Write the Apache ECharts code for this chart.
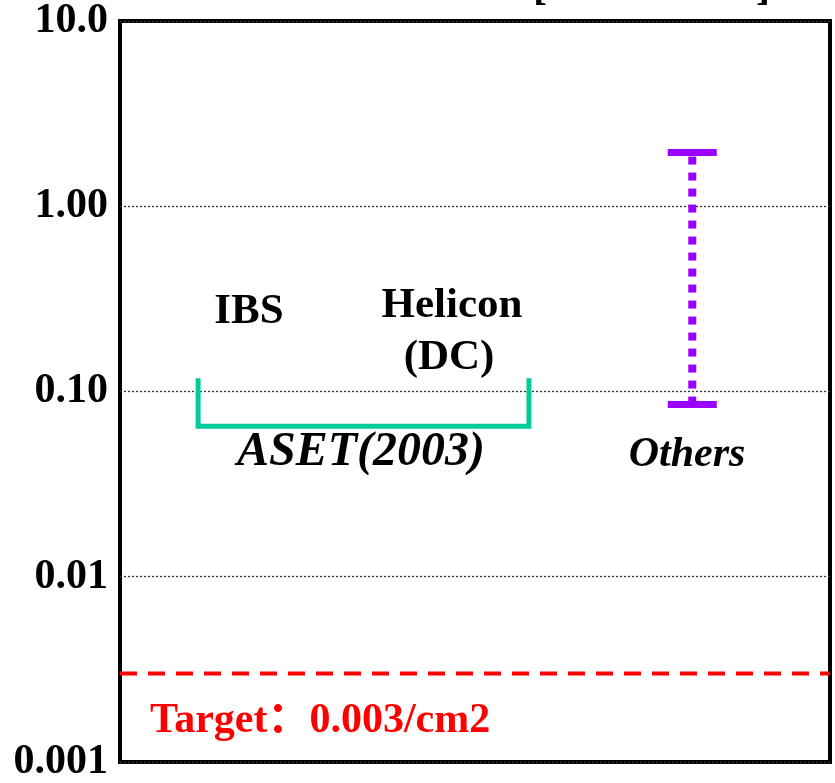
<!DOCTYPE html>
<html>
<head>
<meta charset="utf-8">
<script src="https://cdn.jsdelivr.net/npm/echarts@6/dist/echarts.min.js"></script>
<style>
  html, body { margin: 0; padding: 0; background: #fff; }
  #chart { width: 835px; height: 783px; }
</style>
</head>
<body>
<div id="chart"></div>
<script>
// Y axis (log scale) tick values and their printed labels
const tickValues = [0.001, 0.01, 0.1, 1, 10];
const tickLabels = ['0.001', '0.01', '0.10', '1.00', '10.0'];

// ASET(2003) bracket: spans IBS .. Helicon (DC)
const asetX = [11, 57.6];          // left / right ends on the horizontal scale (0..100)
const asetRange = [0.065, 0.118];  // bracket bottom / tips of the end ticks

// "Others" range bar
const othersX = 80.6;
const othersRange = [0.085, 1.95]; // low / high
const othersCapHalf = 3.45;

// Target level
const targetValue = 0.003;

const serif = "'Liberation Serif', 'Times New Roman', 'Noto Sans CJK SC', serif";

const chart = echarts.init(document.getElementById('chart'), null, { renderer: 'canvas' });

const option = {
  animation: false,
  backgroundColor: '#ffffff',
  grid: {
    left: 120, right: 5, top: 19, bottom: 17,
    show: true, borderColor: '#000', borderWidth: 4, backgroundColor: 'transparent'
  },
  xAxis: {
    type: 'value', min: 0, max: 100, show: false
  },
  yAxis: {
    type: 'log', logBase: 10, min: tickValues[0], max: tickValues[tickValues.length - 1],
    axisLine: { show: false },
    axisTick: { show: false },
    minorTick: { show: false },
    splitLine: { show: true, lineStyle: { type: [2, 2], color: '#333', width: 1.3 } },
    axisLabel: {
      margin: 12,
      fontFamily: serif, fontWeight: 'bold', fontSize: 42, color: '#000',
      formatter: function (v) {
        for (let i = 0; i < tickValues.length; i++) {
          if (Math.abs(Math.log10(v) - Math.log10(tickValues[i])) < 1e-6) return tickLabels[i];
        }
        return '';
      }
    }
  },
  series: [
    {
      name: 'ASET(2003)', type: 'line', symbol: 'none', silent: true,
      lineStyle: { color: '#00CC99', width: 5, cap: 'butt', join: 'miter' },
      data: [
        [asetX[0], asetRange[1]], [asetX[0], asetRange[0]],
        [asetX[1], asetRange[0]], [asetX[1], asetRange[1]]
      ]
    },
    {
      name: 'Others', type: 'line', symbol: 'none', silent: true,
      lineStyle: { color: '#9900FF', width: 8, type: [8, 8], cap: 'butt' },
      data: [[othersX, othersRange[0]], [othersX, othersRange[1]]]
    },
    {
      name: 'Others low', type: 'line', symbol: 'none', silent: true,
      lineStyle: { color: '#9900FF', width: 7, cap: 'butt' },
      data: [[othersX - othersCapHalf, othersRange[0]], [othersX + othersCapHalf, othersRange[0]]]
    },
    {
      name: 'Others high', type: 'line', symbol: 'none', silent: true,
      lineStyle: { color: '#9900FF', width: 7, cap: 'butt' },
      data: [[othersX - othersCapHalf, othersRange[1]], [othersX + othersCapHalf, othersRange[1]]]
    },
    {
      name: 'Target', type: 'line', symbol: 'none', silent: true,
      lineStyle: { color: '#FF0000', width: 4, type: [17, 11], cap: 'butt' },
      data: [[0, targetValue], [100, targetValue]]
    }
  ],
  graphic: [
    { type: 'text', left: 533, top: -33, style: { text: '[', font: 'bold 42px ' + serif, fill: '#000' } },
    { type: 'text', left: 756, top: -33, style: { text: ']', font: 'bold 42px ' + serif, fill: '#000' } },
    { type: 'text', x: 249, y: 312, style: { text: 'IBS', font: 'bold 43px ' + serif, fill: '#000', align: 'center', verticalAlign: 'middle' } },
    { type: 'text', x: 452, y: 306, style: { text: 'Helicon', font: 'bold 43px ' + serif, fill: '#000', align: 'center', verticalAlign: 'middle' } },
    { type: 'text', x: 449, y: 358, style: { text: '(DC)', font: 'bold 43px ' + serif, fill: '#000', align: 'center', verticalAlign: 'middle' } },
    { type: 'text', x: 361, y: 453, style: { text: 'ASET(2003)', font: 'italic bold 48px ' + serif, fill: '#000', align: 'center', verticalAlign: 'middle' } },
    { type: 'text', x: 687, y: 455, style: { text: 'Others', font: 'italic bold 42px ' + serif, fill: '#000', align: 'center', verticalAlign: 'middle' } },
    { type: 'text', x: 150, y: 721, style: { text: 'Target：0.003/cm2', font: 'bold 42px ' + serif, fill: '#FF0000', align: 'left', verticalAlign: 'middle' } }
  ]
};

chart.setOption(option);
</script>
</body>
</html>
